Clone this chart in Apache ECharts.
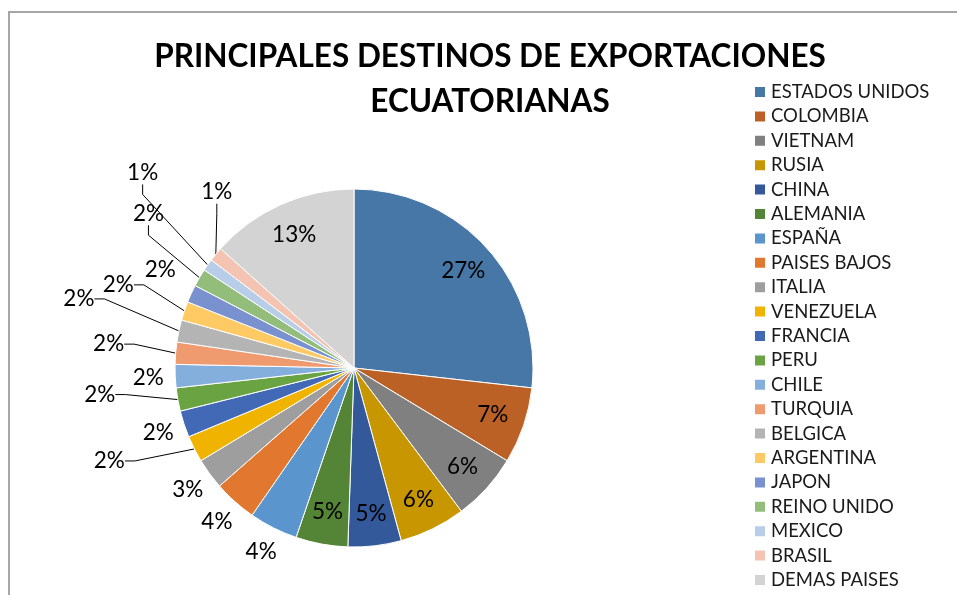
<!DOCTYPE html>
<html>
<head>
<meta charset="utf-8">
<script src="https://cdn.jsdelivr.net/npm/echarts@6/dist/echarts.min.js"></script>
<style>
html,body{margin:0;padding:0;background:#ffffff;}
#chart{width:957px;height:595px;}
</style>
</head>
<body>
<div id="chart"></div>
<script>
// ---- data ----
const categories = ['ESTADOS UNIDOS','COLOMBIA','VIETNAM','RUSIA','CHINA','ALEMANIA','ESPAÑA','PAISES BAJOS','ITALIA','VENEZUELA','FRANCIA','PERU','CHILE','TURQUIA','BELGICA','ARGENTINA','JAPON','REINO UNIDO','MEXICO','BRASIL','DEMAS PAISES'];
const shares = [26.8, 6.9, 6.1, 6.0, 4.8, 4.7, 4.4, 3.9, 2.8, 2.4, 2.4, 2.1, 2.1, 2.0, 2.0, 1.7, 1.6, 1.6, 1.1, 1.3, 13.4];
const sliceColors = ['#4677A6','#BB6126','#808080','#C89700','#33599A','#548536','#5A96CD','#E2772F','#9E9E9E','#F0B400','#4169B6','#69A342','#84AFDC','#F09A70','#B4B4B4','#FFC964','#7A91CF','#93BD7A','#B7CDE8','#F4C3B1','#D3D3D3'];
const titleLines = ['PRINCIPALES DESTINOS DE EXPORTACIONES', 'ECUATORIANAS'];

// ---- label placement groups (layout only) ----
const insideGroup = ['ESTADOS UNIDOS','COLOMBIA','VIETNAM','RUSIA','CHINA','ALEMANIA','DEMAS PAISES'];
const nearGroup = ['ESPAÑA','PAISES BAJOS','ITALIA','FRANCIA','CHILE'];
const leaderShift = {
  'VENEZUELA': [-85, 12],
  'PERU': [-78, -5],
  'TURQUIA': [-67, -9],
  'BELGICA': [-100, -32],
  'ARGENTINA': [-66, -26],
  'JAPON': [-31, -24],
  'REINO UNIDO': [-51, -64],
  'MEXICO': [-65, -92],
  'BRASIL': [1, -62]
};
const hiddenLine = ['JAPON'];

const FONT = 'Lato';
const CENTER = [354, 368];
const R = 179;
const pctText = p => Math.round(p.percent) + '%';
const labelText = {fontFamily: FONT, fontSize: 22.5, color: '#000'};

const chart = echarts.init(document.getElementById('chart'), null, {renderer: 'canvas'});

const mainData = categories.map((n, i) => {
  const lead = !!leaderShift[n];
  return {
    name: n, value: shares[i],
    itemStyle: {color: sliceColors[i]},
    label: {show: lead},
    labelLine: {show: lead, length: 0, length2: 10,
      lineStyle: {opacity: hiddenLine.indexOf(n) >= 0 ? 0 : 1}}
  };
});
const overlayData = group => categories.map((n, i) => ({
  name: n, value: shares[i],
  label: {show: group.indexOf(n) >= 0}
}));

const option = {
  animation: false,
  backgroundColor: '#ffffff',
  graphic: [{
    type: 'rect',
    shape: {x: 9, y: 12, width: 1000, height: 700},
    style: {fill: 'none', stroke: '#A6A6A6', lineWidth: 2},
    silent: true
  }],
  title: {
    text: titleLines.join('\n'),
    left: 485, top: 29, textAlign: 'center',
    textStyle: {fontFamily: FONT, fontWeight: 'bold', fontSize: 31.5, lineHeight: 45, color: '#000'}
  },
  legend: {
    type: 'plain', orient: 'vertical', left: 748, top: 77.5, height: 560,
    data: categories, icon: 'rect', itemWidth: 12, itemHeight: 12, itemGap: 5.4,
    selectedMode: false,
    textStyle: {fontFamily: FONT, fontSize: 18.5, color: '#1a1a1a'}
  },
  series: [
    {
      type: 'pie', name: 'main', center: CENTER, radius: R,
      startAngle: 90, clockwise: true, avoidLabelOverlap: false,
      emphasis: {disabled: true}, silent: true,
      itemStyle: {borderColor: '#ffffff', borderWidth: 1},
      label: Object.assign({position: 'outside', formatter: pctText}, labelText),
      labelLine: {lineStyle: {color: '#000', width: 1}, minTurnAngle: 60},
      labelLayout: function (p) {
        const n = categories[p.dataIndex];
        const s = leaderShift[n];
        if (!s || !p.labelLinePoints) return {};
        const e = p.labelLinePoints[0];
        return {x: e[0] + s[0], y: e[1] + s[1], align: 'center', verticalAlign: 'middle'};
      },
      data: mainData
    },
    {
      type: 'pie', name: 'inner', center: CENTER, radius: [108, R],
      startAngle: 90, clockwise: true, silent: true, emphasis: {disabled: true},
      itemStyle: {color: 'transparent', borderWidth: 0},
      label: Object.assign({position: 'inside', formatter: pctText}, labelText),
      labelLine: {show: false},
      data: overlayData(insideGroup)
    },
    {
      type: 'pie', name: 'near', center: CENTER, radius: [193, 213],
      startAngle: 90, clockwise: true, silent: true, emphasis: {disabled: true},
      itemStyle: {color: 'transparent', borderWidth: 0},
      label: Object.assign({position: 'inside', formatter: pctText}, labelText),
      labelLine: {show: false},
      data: overlayData(nearGroup)
    }
  ]
};
chart.setOption(option);
</script>
</body>
</html>
